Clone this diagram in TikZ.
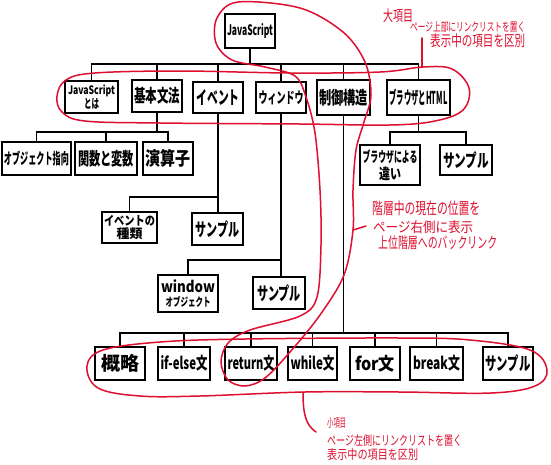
\documentclass[tikz,border=0pt]{standalone}
\usepackage{fontspec}
\setmainfont{Noto Sans CJK JP}
\usepackage{graphicx}
\definecolor{pen}{RGB}{222,16,48}
\tikzset{
  box/.style={draw, line width=1.7pt, inner sep=0pt, align=center, font=\bfseries\fontsize{10}{10}\selectfont},
  conn/.style={line width=1.4pt},
  redline/.style={draw=pen, line width=1.5pt, line cap=round, line join=round},
  note/.style={text=pen, anchor=west, inner sep=0pt},
}
\newcommand\fitto[3]{\resizebox*{#1pt}{#2pt}{#3}}
\begin{document}
\begin{tikzpicture}[x=1pt,y=-1pt]
\useasboundingbox (0,0) rectangle (551,464);
\fill[white] (0,0) rectangle (551,464);

% ---------- boxes ----------
\node[box, minimum width=50pt, minimum height=34pt] (js) at (250,31) {\fitto{46}{15}{JavaScript}};

\node[box, minimum width=53pt, minimum height=32pt] (about) at (91.5,97) {\fitto{47}{12}{JavaScript}\\[1pt]\fitto{15}{11}{とは}};
\node[box, minimum width=50pt, minimum height=32pt] (basic) at (157,96) {\fitto{46}{17}{基本文法}};
\node[box, minimum width=50pt, minimum height=31pt] (event) at (218,97.5) {\fitto{43}{16}{イベント}};
\node[box, minimum width=50pt, minimum height=31pt] (window) at (281,97.5) {\fitto{45}{14}{ウィンドウ}};
\node[box, minimum width=53pt, minimum height=35pt] (control) at (343.5,97.5) {\fitto{49}{17}{制御構造}};
\node[box, minimum width=63pt, minimum height=35pt] (browser) at (418.5,97.5) {\fitto{58}{17}{ブラウザとHTML}};

\node[box, minimum width=69pt, minimum height=33pt] (oop) at (36.5,158.5) {\fitto{65}{15}{オブジェクト指向}};
\node[box, minimum width=62pt, minimum height=33pt] (func) at (106,158.5) {\fitto{56}{17}{関数と変数}};
\node[box, minimum width=50pt, minimum height=33pt] (ops) at (168,158.5) {\fitto{45}{18}{演算子}};

\node[box, minimum width=60pt, minimum height=40pt] (diff) at (390,165) {\fitto{55}{14}{ブラウザによる}\\[2pt]\fitto{22}{14}{違い}};
\node[box, minimum width=52pt, minimum height=30pt] (bsample) at (466,160) {\fitto{46}{17}{サンプル}};

\node[box, minimum width=55pt, minimum height=31pt] (etype) at (129.5,227.5) {\fitto{51}{11}{イベントの}\\[1pt]\fitto{26}{12}{種類}};
\node[box, minimum width=51pt, minimum height=32pt] (esample) at (217.5,229) {\fitto{44}{17}{サンプル}};

\node[box, minimum width=60pt, minimum height=37pt] (wobj) at (188,293.5) {\fitto{54}{13}{window}\\[2pt]\fitto{45}{11}{オブジェクト}};
\node[box, minimum width=52pt, minimum height=32pt] (wsample) at (279,293) {\fitto{44}{17}{サンプル}};

\node[box, minimum width=50pt, minimum height=33pt] (gai) at (120,363.5) {\fitto{38}{18}{概略}};
\node[box, minimum width=52pt, minimum height=33pt] (ifelse) at (184,363.5) {\fitto{47}{16}{if-else文}};
\node[box, minimum width=52pt, minimum height=33pt] (ret) at (251,363.5) {\fitto{47}{16}{return文}};
\node[box, minimum width=49pt, minimum height=33pt] (while) at (312.5,363.5) {\fitto{44}{16}{while文}};
\node[box, minimum width=50pt, minimum height=33pt] (for) at (375,363.5) {\fitto{40}{17}{for文}};
\node[box, minimum width=53pt, minimum height=33pt] (brk) at (436.5,363.5) {\fitto{47}{16}{break文}};
\node[box, minimum width=50pt, minimum height=33pt] (csample) at (508,363.5) {\fitto{45}{17}{サンプル}};

% ---------- connectors ----------
\coordinate (bus1) at (250,64);
\coordinate (bus2) at (0,132);
\coordinate (bus3) at (0,197);
\coordinate (bus4) at (0,260);
\coordinate (bus5) at (0,333);

\draw[conn] (js.south) -- (bus1);
\draw[conn] (about.north) |- (browser.north |- bus1) -- (browser.north);
\foreach \n in {basic,event,window,control}
  \draw[conn] (\n.north) -- (\n.north |- bus1);

\draw[conn] (basic.south) -- (basic.south |- bus2);
\draw[conn] (oop.north) |- (ops.north |- bus2) -- (ops.north);
\draw[conn] (func.north) -- (func.north |- bus2);

\draw[conn] (browser.south) -- (browser.south |- bus2);
\draw[conn] (diff.north) |- (bsample.north |- bus2) -- (bsample.north);

\draw[conn] (event.south) -- (event.south |- esample.north);
\draw[conn] (etype.north) |- (event.south |- bus3);

\draw[conn] (window.south) -- (window.south |- wsample.north);
\draw[conn] (wobj.north) |- (window.south |- bus4);

\draw[conn] (control.south) -- (control.south |- bus5);
\draw[conn] (gai.north) |- (csample.north |- bus5) -- (csample.north);
\foreach \n in {ifelse,ret,while,for,brk}
  \draw[conn] (\n.north) -- (\n.north |- bus5);

% ---------- red annotations ----------
% loop: current position in hierarchy
\draw[redline] plot[smooth cycle, tension=0.55] coordinates {
  (238,2) (300,8) (343,32) (365,62) (371,95) (364,122) (356,150)
  (353,190) (353,230) (344,275) (320,315) (290,352) (265,378)
  (245,386) (228,380) (221,362) (228,343) (250,330) (300,316)
  (317,297) (321,245) (320,190) (315,133) (306,97) (295,76)
  (265,67) (232,60) (216,43) (217,18)};

% ellipse around main items
\draw[redline] plot[smooth cycle, tension=0.6] coordinates {
  (57,96) (66,80) (95,73) (180,71) (290,73) (380,72) (423,67)
  (452,69) (469,88) (463,110) (435,121) (390,125) (300,124)
  (160,123) (85,121) (62,112)};

% ellipse around sub items
\draw[redline] plot[smooth cycle, tension=0.6] coordinates {
  (87,366) (103,350) (160,342) (245,339) (400,338) (470,340)
  (530,350) (547,370) (535,386) (491,393) (400,392) (305,392)
  (200,396) (140,396) (98,388)};

% notes
\node[note] (n1a) at (383,15.5) {\fitto{30}{14}{大項目}};
\node[note] (n1b) at (410,27) {\fitto{115}{11}{ページ上部にリンクリストを置く}};
\node[note] (n1c) at (430,41) {\fitto{95}{14}{表示中の項目を区別}};

\node[note] (n2a) at (372,208.5) {\fitto{108}{15}{階層中の現在の位置を}};
\node[note] (n2b) at (373,227) {\fitto{100}{13}{ページ右側に表示}};
\node[note] (n2c) at (378,242.5) {\fitto{119}{14}{上位階層へのバックリンク}};

\node[note] (n3a) at (327,423) {\fitto{19}{11}{小項目}};
\node[note] (n3b) at (327,440.5) {\fitto{135}{12}{ページ左側にリンクリストを置く}};
\node[note] (n3c) at (327,454.5) {\fitto{91}{12}{表示中の項目を区別}};

% pointer lines
\coordinate (p1a) at (422,38);
\coordinate (p1b) at (422,67);
\draw[redline] (p1a) -- (p1b);
\coordinate (p2a) at (353,230);
\coordinate (p2b) at (366,226);
\draw[redline] (p2a) -- (p2b);
\coordinate (p3a) at (303,392);
\coordinate (p3b) at (316,432);
\draw[redline] (p3a) .. controls (303,415) and (306,425) .. (p3b);
\end{tikzpicture}
\end{document}
